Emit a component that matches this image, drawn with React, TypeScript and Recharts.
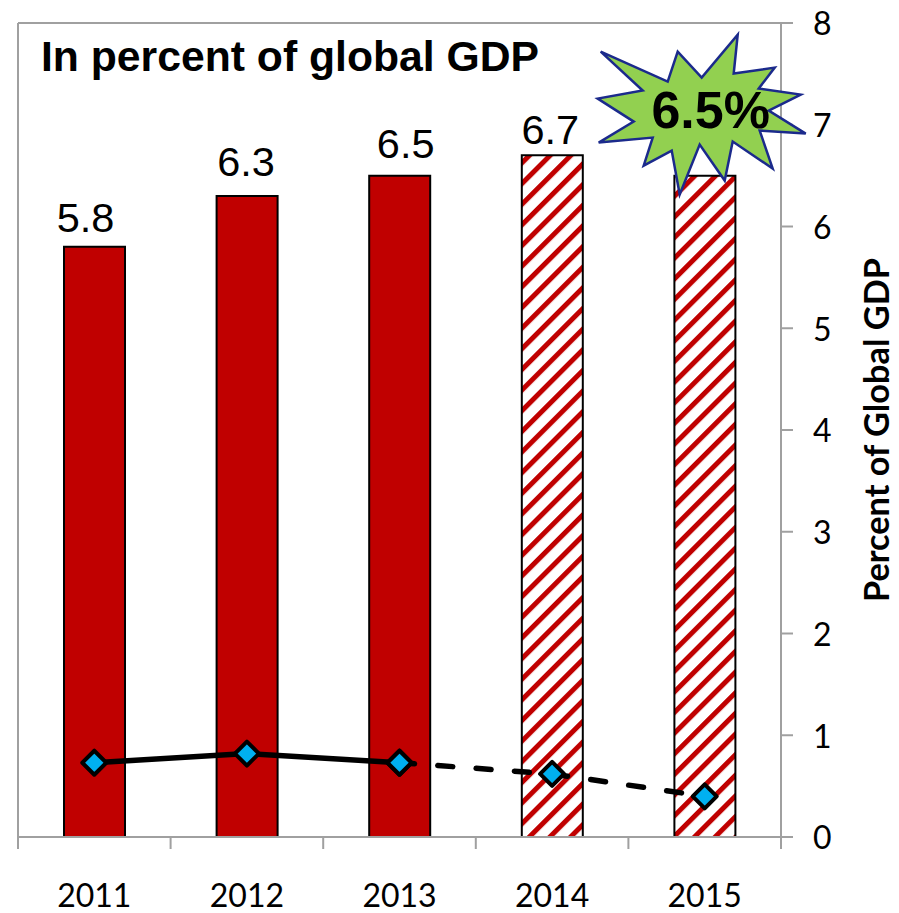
import { Bar, Cell, ComposedChart, LabelList, Line, ReferenceDot, ReferenceLine, XAxis, YAxis } from 'recharts';

const years = ['2011', '2012', '2013', '2014', '2015'];
const shareOfGdp = [5.8, 6.3, 6.5, 6.7, 6.5];
const projected = [false, false, false, true, true];
const lineActual = [0.73, 0.82, 0.73, null, null];
const lineProjected = [null, null, 0.73, 0.62, 0.4];
const valueTicks = [0, 1, 2, 3, 4, 5, 6, 7, 8];
const edgeTicks = [0, 1, 2, 3, 4, 5];
// 2015 is called out by the burst, so its bar carries no label of its own
const barLabels = ['5.8', '6.3', '6.5', '6.7', ''];
const labelNudge = [
  [-9, -15],
  [-1, -20],
  [6, -18],
  [-2, -11],
  [0, 0],
];

const rows = years.map((year, i) => ({
  year,
  slot: i,
  share: shareOfGdp[i],
  actual: lineActual[i],
  forecast: lineProjected[i],
}));

const ARIAL = '"Liberation Sans", Arial, sans-serif';
const AXIS_FONT = 'Lato, sans-serif';
const AXIS_GRAY = '#A0A0A0';
const RED = '#C00000';

// burst outline as offsets from its centre, tips and notches in turn
const burstOffsets = [
  [-100, -63], [-33, -33], [-23, -63], [1, -37], [37, -80], [33, -41], [74, -47], [58, -26],
  [100, -20], [68, -4], [105, 19], [59, 16], [72, 54], [32, 27], [24, 66], [-1, 30],
  [-21, 80], [-29, 36], [-57, 51], [-48, 23], [-102, 28], [-67, 7], [-103, -16], [-58, -24],
];

function DiamondDot({ cx, cy }: { cx?: number; cy?: number }) {
  if (cx == null || cy == null) return null;
  return (
    <path
      d={`M${cx},${cy - 12} L${cx + 12},${cy} L${cx},${cy + 12} L${cx - 12},${cy} Z`}
      fill="#00B0F0"
      stroke="#000"
      strokeWidth={4}
      strokeLinejoin="round"
    />
  );
}

function Burst({ cx, cy }: { cx?: number; cy?: number }) {
  if (cx == null || cy == null) return null;
  const points = burstOffsets.map(([dx, dy]) => `${cx + dx},${cy + dy}`).join(' ');
  return (
    <g>
      <polygon points={points} fill="#92D050" stroke="#1B2A8C" strokeWidth={2.5} strokeLinejoin="miter" />
      <text x={cx + 10} y={cy + 13} textAnchor="middle" fontFamily={ARIAL} fontWeight={700} fontSize={52} fill="#000">
        6.5%
      </text>
    </g>
  );
}

function BarValue({ x, y, width, index }: any) {
  const [dx, dy] = labelNudge[index];
  return (
    <text x={x + width / 2 + dx} y={y + dy} textAnchor="middle" fontFamily={ARIAL} fontSize={41.5} fill="#000">
      {barLabels[index]}
    </text>
  );
}

export default function App() {
  return (
    <div style={{ position: 'absolute', left: 0, top: 0, width: 899, height: 913, background: '#fff' }}>
      <ComposedChart width={899} height={913} data={rows} margin={{ top: 23, right: 0, bottom: 0, left: 18 }}>
        <defs>
          <pattern id="redHatch" patternUnits="userSpaceOnUse" width="14.6" height="14.6" patternTransform="rotate(45)">
            <rect width="14.6" height="14.6" fill="#fff" />
            <rect width="5" height="14.6" fill={RED} />
          </pattern>
        </defs>
        {/* boundary tick marks sit against the plot, year labels stack below them */}
        <XAxis
          xAxisId="edges"
          dataKey="slot"
          type="number"
          domain={[0, 5]}
          allowDataOverflow
          ticks={edgeTicks}
          interval={0}
          tick={() => <g />}
          tickSize={12}
          height={14}
          stroke={AXIS_GRAY}
          strokeWidth={2}
        />
        <XAxis
          xAxisId="years"
          dataKey="year"
          axisLine={false}
          tickLine={false}
          height={62}
          tickMargin={27}
          tick={{ fontFamily: AXIS_FONT, fontSize: 32, fill: '#000' }}
          interval={0}
        />
        <YAxis
          orientation="right"
          width={118}
          domain={[0, 8]}
          ticks={valueTicks}
          tickSize={12}
          tickMargin={20}
          stroke={AXIS_GRAY}
          strokeWidth={2}
          tick={{ fontFamily: AXIS_FONT, fontSize: 32, fill: '#000', dy: 1 }}
          label={{
            value: 'Percent of Global GDP',
            angle: -90,
            position: 'insideRight',
            dx: -17,
            style: { fontFamily: AXIS_FONT, fontSize: 34.3, fontWeight: 700, fill: '#000', textAnchor: 'middle' },
          }}
        />
        <ReferenceLine xAxisId="years" y={8} stroke={AXIS_GRAY} strokeWidth={2} />
        <ReferenceLine xAxisId="edges" x={0} stroke={AXIS_GRAY} strokeWidth={2} />
        <Bar xAxisId="years" dataKey="share" barSize={61} stroke="#000" strokeWidth={2} isAnimationActive={false}>
          {rows.map((row, i) => (
            <Cell key={row.year} fill={projected[i] ? 'url(#redHatch)' : RED} />
          ))}
          <LabelList dataKey="share" content={BarValue} />
        </Bar>
        <Line
          xAxisId="years"
          dataKey="actual"
          stroke="#000"
          strokeWidth={5.5}
          dot={(p: any) => <DiamondDot key={p.index} cx={p.cx} cy={p.cy} />}
          isAnimationActive={false}
        />
        <Line
          xAxisId="years"
          dataKey="forecast"
          stroke="#000"
          strokeWidth={5.5}
          strokeLinecap="round"
          strokeDasharray="15 23.4"
          dot={(p: any) => <DiamondDot key={p.index} cx={p.cx} cy={p.cy} />}
          isAnimationActive={false}
        />
        <ReferenceDot xAxisId="years" x="2015" y={7.1} shape={(p: any) => <Burst cx={p.cx - 4} cy={p.cy} />} />
        <text x={41} y={71} fontFamily={ARIAL} fontWeight={700} fontSize={42.7} fill="#000">
          In percent of global GDP
        </text>
      </ComposedChart>
    </div>
  );
}
